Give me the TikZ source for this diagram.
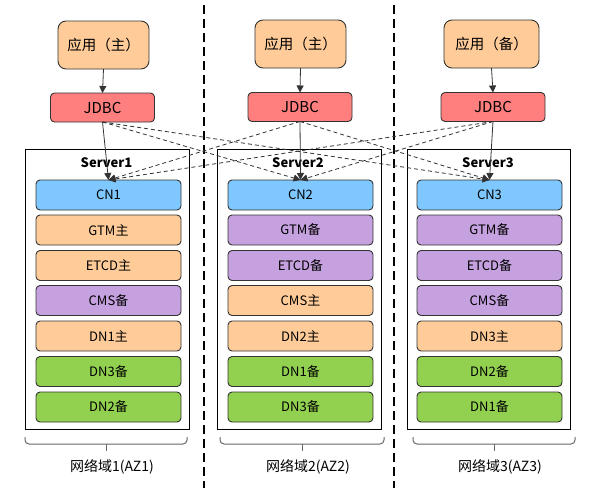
\documentclass[tikz,border=0pt]{standalone}
\usepackage{fontspec}
\setmainfont{Noto Sans CJK SC}
\usetikzlibrary{arrows.meta}
\definecolor{cOrange}{HTML}{FFCC99}
\definecolor{cRed}{HTML}{FF7F7F}
\definecolor{cBlue}{HTML}{7FC8FF}
\definecolor{cPurple}{HTML}{C6A1DF}
\definecolor{cGreen}{HTML}{92D050}
\definecolor{cLine}{HTML}{333333}
\tikzset{
  appbox/.style={draw=cLine, line width=0.9pt, fill=cOrange, rounded corners=8pt, minimum height=48pt, inner sep=0pt, outer sep=0pt, font=\fontsize{14.5}{16}\selectfont},
  jdbcbox/.style={draw=cLine, line width=0.9pt, fill=cRed, rounded corners=4pt, minimum width=104pt, minimum height=29pt, inner sep=0pt, outer sep=0pt, font=\fontsize{15}{17}\selectfont},
  srvbox/.style={draw=black, line width=0.8pt, minimum width=164pt, minimum height=280pt, inner sep=0pt, outer sep=0pt},
  srvlabel/.style={font=\bfseries\fontsize{13}{15}\selectfont, inner sep=0pt},
  inbox/.style={draw=cLine, line width=0.9pt, rounded corners=4pt, minimum width=145pt, minimum height=30pt, inner sep=0pt, outer sep=0pt, font=\fontsize{13}{15}\selectfont},
  solidarrow/.style={draw=cLine, line width=0.8pt, -{Triangle[length=7pt,width=7pt]}},
  dasharrow/.style={draw=cLine, line width=0.8pt, dash pattern=on 4pt off 3pt, -{Triangle[length=7pt,width=7pt]}},
  zoneline/.style={draw=black, line width=1.8pt, dash pattern=on 9pt off 5pt},
  bracket/.style={draw=gray!80!black, line width=1pt, rounded corners=4pt},
  zonelabel/.style={font=\fontsize{14}{16}\selectfont, inner sep=0pt}
}
\begin{document}
\begin{tikzpicture}[x=1pt,y=-1pt]
\useasboundingbox (0,0) rectangle (592,488);
% zone separators
\coordinate (z1t) at (204,5); \coordinate (z1b) at (204,488);
\coordinate (z2t) at (394,5); \coordinate (z2b) at (394,488);
\draw[zoneline] (z1t) -- (z1b);
\draw[zoneline] (z2t) -- (z2b);
% applications
\node[appbox, minimum width=91pt] (app1) at (103.5,45) {应用（主）};
\node[appbox, minimum width=91pt] (app2) at (300.5,44) {应用（主）};
\node[appbox, minimum width=95pt] (app3) at (491.5,44) {应用（备）};
% JDBC
\node[jdbcbox] (j1) at (102.5,107.5) {JDBC};
\node[jdbcbox] (j2) at (300,107) {JDBC};
\node[jdbcbox] (j3) at (493,107) {JDBC};
% servers
\node[srvbox] (s1) at (107,289) {};
\node[srvbox] (s2) at (299,289) {};
\node[srvbox, minimum width=163pt] (s3) at (488.5,289) {};
\node[srvlabel] (s1l) at (106.5,162.5) {Server1};
\node[srvlabel] (s2l) at (298,162.5) {Server2};
\node[srvlabel] (s3l) at (488,162.5) {Server3};
% server 1
\node[inbox, fill=cBlue]   (cn1)  at (108.5,195)   {CN1};
\node[inbox, fill=cOrange] (g1)   at (108.5,230)   {GTM主};
\node[inbox, fill=cOrange] (e1)   at (108.5,265.5) {ETCD主};
\node[inbox, fill=cPurple] (c1)   at (108.5,300.5) {CMS备};
\node[inbox, fill=cOrange] (d1a)  at (108.5,336)   {DN1主};
\node[inbox, fill=cGreen]  (d1b)  at (108.5,371.5) {DN3备};
\node[inbox, fill=cGreen]  (d1c)  at (108.5,407)   {DN2备};
% server 2
\node[inbox, fill=cBlue]   (cn2)  at (300.5,195)   {CN2};
\node[inbox, fill=cPurple] (g2)   at (300.5,230)   {GTM备};
\node[inbox, fill=cPurple] (e2)   at (300.5,265.5) {ETCD备};
\node[inbox, fill=cOrange] (c2)   at (300.5,300.5) {CMS主};
\node[inbox, fill=cOrange] (d2a)  at (300.5,336)   {DN2主};
\node[inbox, fill=cGreen]  (d2b)  at (300.5,371.5) {DN1备};
\node[inbox, fill=cGreen]  (d2c)  at (300.5,407)   {DN3备};
% server 3
\node[inbox, fill=cBlue]   (cn3)  at (489.5,195)   {CN3};
\node[inbox, fill=cPurple] (g3)   at (489.5,230)   {GTM备};
\node[inbox, fill=cPurple] (e3)   at (489.5,265.5) {ETCD备};
\node[inbox, fill=cPurple] (c3)   at (489.5,300.5) {CMS备};
\node[inbox, fill=cOrange] (d3a)  at (489.5,336)   {DN3主};
\node[inbox, fill=cGreen]  (d3b)  at (489.5,371.5) {DN2备};
\node[inbox, fill=cGreen]  (d3c)  at (489.5,407)   {DN1备};
% app -> jdbc
\draw[solidarrow] (app1.south) -- (j1.north);
\draw[solidarrow] (app2.south) -- (j2.north);
\draw[solidarrow] (app3.south) -- (j3.north);
% jdbc -> cn
\draw[solidarrow] (j1.south) -- (cn1.north);
\draw[solidarrow] (j2.south) -- (cn2.north);
\draw[solidarrow] (j3.south) -- (cn3.north);
\draw[dasharrow] (j1.south) -- (cn2.north);
\draw[dasharrow] (j1.south) -- (cn3.north);
\draw[dasharrow] (j2.south) -- (cn1.north);
\draw[dasharrow] (j2.south) -- (cn3.north);
\draw[dasharrow] (j3.south) -- (cn1.north);
\draw[dasharrow] (j3.south) -- (cn2.north);
% brackets
\coordinate (b1l) at (25,437);  \coordinate (b1m) at (106,444); \coordinate (b1r) at (187,437); \coordinate (b1t) at (106,451);
\coordinate (b2l) at (220,437); \coordinate (b2m) at (302,444); \coordinate (b2r) at (384,437); \coordinate (b2t) at (302,451);
\coordinate (b3l) at (413,437); \coordinate (b3m) at (494,444); \coordinate (b3r) at (575,437); \coordinate (b3t) at (494,451);
\draw[bracket] (b1l) |- (b1m) -| (b1r);
\draw[bracket] (b1m) -- (b1t);
\draw[bracket] (b2l) |- (b2m) -| (b2r);
\draw[bracket] (b2m) -- (b2t);
\draw[bracket] (b3l) |- (b3m) -| (b3r);
\draw[bracket] (b3m) -- (b3t);
% zone labels
\node[zonelabel] (l1) at (112,467) {网络域1(AZ1)};
\node[zonelabel] (l2) at (308,467) {网络域2(AZ2)};
\node[zonelabel] (l3) at (500,467) {网络域3(AZ3)};
\end{tikzpicture}
\end{document}
